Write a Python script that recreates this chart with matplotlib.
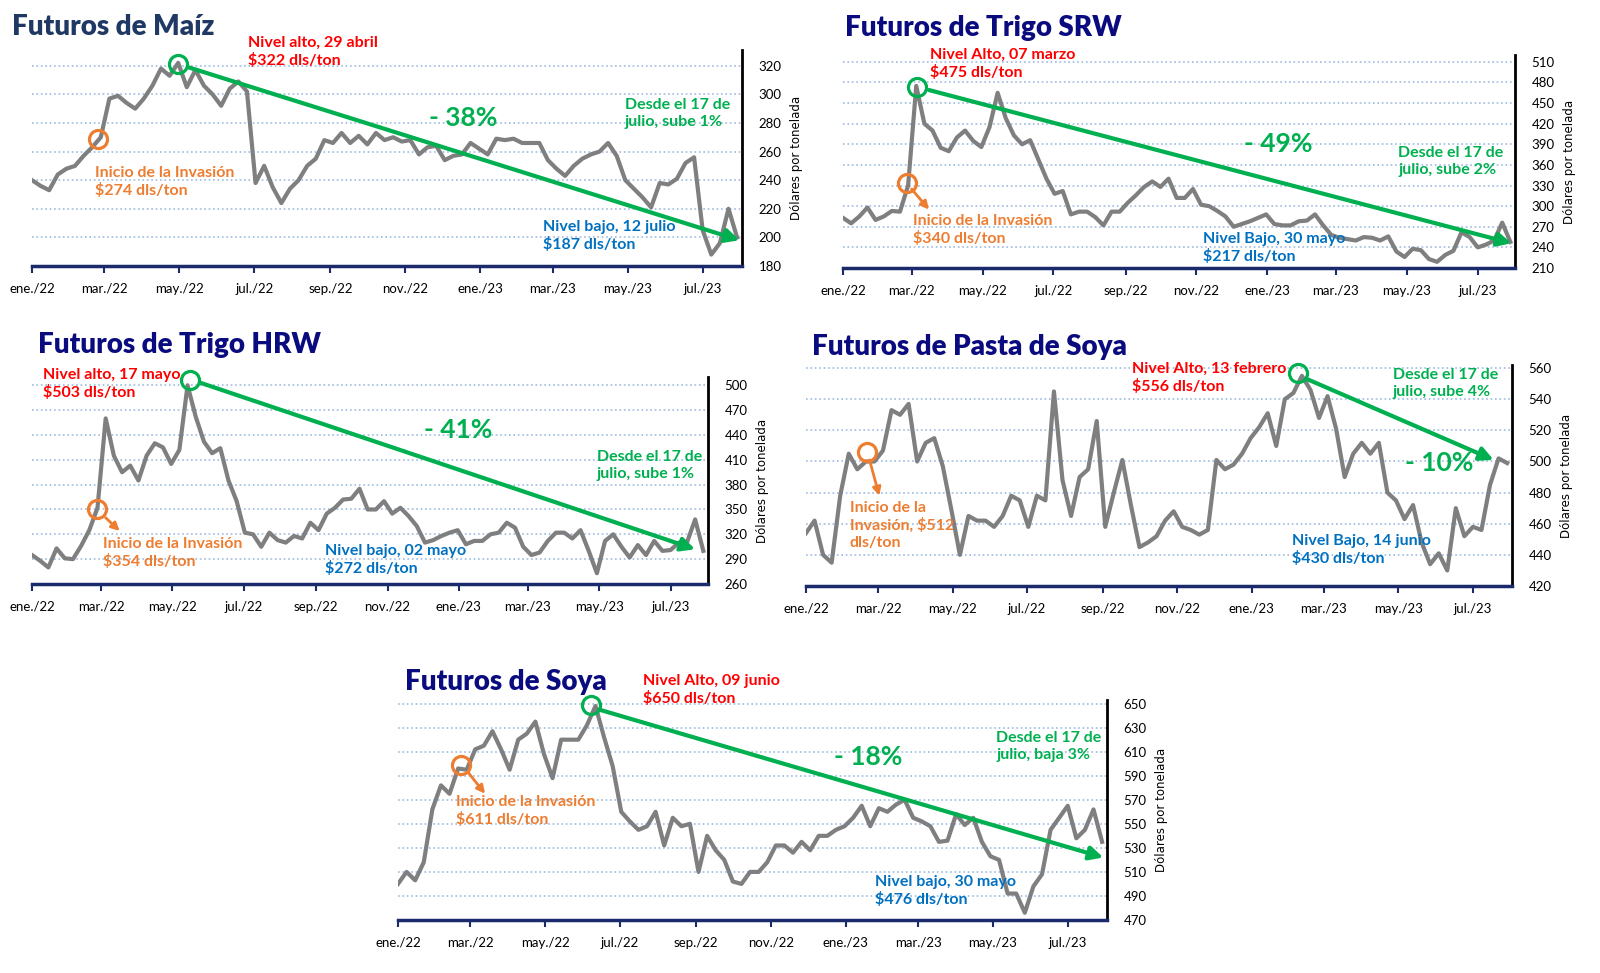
import matplotlib
matplotlib.use("Agg")
import matplotlib.pyplot as plt
import matplotlib.dates as mdates
import pandas as pd

W, H = 1600, 973
plt.rcParams['font.family'] = ['Lato', 'DejaVu Sans']

# weekly closes (USD / ton)
dates = pd.date_range('2022-01-01', periods=83, freq='7D')
month_ticks = pd.date_range('2022-01-01', '2023-07-01', freq='2MS')
month_labels = ['ene./22', 'mar./22', 'may./22', 'jul./22', 'sep./22', 'nov./22',
                'ene./23', 'mar./23', 'may./23', 'jul./23']

maiz = [240, 236, 233, 244, 248, 250, 257, 263, 270, 297,
        299, 294, 290, 297, 306, 318, 313, 322, 305, 317,
        306, 300, 292, 304, 309, 302, 238, 250, 235, 224,
        234, 240, 250, 255, 268, 266, 273, 266, 271, 265,
        273, 268, 270, 267, 268, 258, 263, 264, 254, 257,
        258, 266, 262, 258, 269, 268, 269, 266, 266, 266,
        254, 248, 243, 250, 255, 258, 260, 266, 257, 240,
        234, 228, 221, 238, 237, 241, 252, 256, 205, 188,
        196, 220, 200]
trigo_srw = [283, 275, 285, 298, 280, 285, 293, 292, 330, 475,
             420, 410, 385, 380, 400, 410, 395, 386, 415, 465,
             428, 403, 390, 396, 368, 340, 318, 322, 288, 292,
             292, 284, 272, 292, 292, 305, 316, 328, 336, 328,
             340, 312, 312, 325, 302, 300, 293, 285, 270, 274,
             278, 283, 288, 274, 272, 272, 278, 279, 288, 272,
             258, 254, 252, 250, 255, 254, 250, 256, 234, 226,
             238, 236, 223, 219, 229, 235, 262, 255, 240, 244,
             250, 276, 248]
trigo_hrw = [295, 288, 280, 303, 291, 290, 306, 325, 352, 460,
             415, 395, 403, 385, 415, 430, 425, 405, 422, 500,
             462, 432, 418, 424, 385, 360, 322, 320, 305, 322,
             313, 310, 318, 315, 334, 325, 345, 352, 362, 363,
             375, 350, 350, 360, 345, 352, 342, 330, 310, 313,
             318, 322, 325, 308, 312, 312, 320, 322, 334, 328,
             305, 295, 298, 312, 322, 322, 315, 325, 300, 273,
             312, 320, 305, 292, 307, 295, 312, 300, 301, 310,
             310, 338, 300]
pasta = [454, 462, 440, 435, 478, 505, 495, 500, 500, 507,
         533, 530, 537, 500, 512, 515, 497, 469, 440, 465,
         462, 462, 458, 465, 478, 475, 458, 478, 475, 545,
         488, 465, 490, 495, 526, 458, 480, 501, 472, 445,
         448, 452, 462, 468, 458, 456, 453, 456, 501, 495,
         498, 505, 515, 522, 531, 510, 540, 544, 555, 546,
         528, 542, 521, 490, 505, 512, 505, 512, 480, 475,
         463, 472, 448, 434, 441, 430, 470, 452, 458, 456,
         485, 502, 499]
soya = [500, 510, 503, 518, 562, 582, 575, 596, 595, 612,
        615, 627, 612, 595, 620, 625, 635, 608, 588, 620,
        620, 620, 632, 648, 622, 598, 560, 552, 545, 548,
        560, 532, 555, 548, 550, 510, 540, 528, 520, 502,
        500, 510, 510, 518, 532, 532, 526, 535, 528, 540,
        540, 545, 548, 555, 565, 548, 563, 560, 566, 570,
        555, 552, 548, 535, 536, 558, 549, 555, 535, 523,
        520, 492, 492, 476, 498, 508, 545, 555, 565, 538,
        545, 562, 535]

GRAY = '#7F7F7F'
GREEN = '#00B050'
ORANGE = '#ED7D31'
RED = '#FF0000'
BLUE = '#0070C0'
AXIS_NAVY = '#1B2A6B'
TITLE_NAVY = '#0B0B80'

fig = plt.figure(figsize=(W / 100, H / 100), dpi=100)
fig.patch.set_facecolor('white')


def panel(box, values, yticks, ylim):
    left, right, top, bottom = box
    ax = fig.add_axes([left / W, 1 - bottom / H, (right - left) / W, (bottom - top) / H])
    ax.plot(dates, values, color=GRAY, lw=3.0, solid_joinstyle='round')
    ax.set_xlim(pd.Timestamp('2022-01-01'), pd.Timestamp('2023-08-02'))
    ax.set_ylim(*ylim)
    ax.set_yticks(yticks)
    ax.set_xticks(month_ticks)
    ax.set_xticklabels(month_labels)
    ax.grid(axis='y', color='#9DBBE0', linestyle=':', lw=1.2)
    ax.set_axisbelow(True)
    for s in ['left', 'top']:
        ax.spines[s].set_visible(False)
    ax.spines['right'].set_color('black')
    ax.spines['right'].set_linewidth(2)
    ax.spines['bottom'].set_color(AXIS_NAVY)
    ax.spines['bottom'].set_linewidth(2.5)
    ax.yaxis.tick_right()
    ax.yaxis.set_label_position('right')
    ax.tick_params(axis='x', direction='out', length=5, width=1.5, color=AXIS_NAVY,
                   labelsize=9.5, pad=7)
    ax.tick_params(axis='y', length=0, labelsize=9.5, pad=12)
    ax.set_ylabel('Dólares por tonelada', fontsize=8.5, labelpad=6,
                  family=['DejaVu Sans'])
    return ax


def circle(ax, d, v, color):
    ax.plot(mdates.date2num(pd.Timestamp(d)), v, 'o', ms=13, mfc='none', mec=color,
            mew=2.3, clip_on=False, zorder=5)


def arrow(ax, d0, v0, d1, v1, color=GREEN, lw=3.0, scale=20):
    ax.annotate('', xy=(mdates.date2num(pd.Timestamp(d1)), v1),
                xytext=(mdates.date2num(pd.Timestamp(d0)), v0),
                arrowprops=dict(arrowstyle='-|>', color=color, lw=lw,
                                mutation_scale=scale, shrinkA=0, shrinkB=0),
                annotation_clip=False, zorder=6)


def label(x, y, s, color, size=11.5):
    fig.text(x / W, 1 - y / H, s, color=color, fontsize=size, fontweight='bold',
             va='top', ha='left', linespacing=1.25)


def pct(x, y, s):
    fig.text(x / W, 1 - y / H, s, color=GREEN, fontsize=19, fontweight='bold',
             va='center', ha='center')


def title(x, y, s, color=TITLE_NAVY):
    fig.text(x / W, 1 - y / H, s, color=color, fontsize=20, fontweight='heavy',
             va='center', ha='left')


# Maíz
ax1 = panel((32, 742, 50, 266), maiz, range(180, 321, 20), (180, 331))
circle(ax1, '2022-02-24', 269, ORANGE)
circle(ax1, '2022-04-30', 321, GREEN)
arrow(ax1, '2022-05-08', 319, '2023-07-31', 198)
title(12, 27, 'Futuros de Maíz', '#1F3864')
label(248, 36, 'Nivel alto, 29 abril\n$322 dls/ton', RED)
pct(463, 118, '- 38%')
label(625, 98, 'Desde el 17 de\njulio, sube 1%', GREEN)
label(95, 166, 'Inicio de la Invasión\n$274 dls/ton', ORANGE)
label(543, 220, 'Nivel bajo, 12 julio\n$187 dls/ton', BLUE)

# Trigo SRW
ax2 = panel((843, 1515, 55, 268), trigo_srw, range(210, 511, 30), (210, 520))
circle(ax2, '2022-02-25', 334, ORANGE)
arrow(ax2, '2022-03-01', 325, '2022-03-16', 295, ORANGE, 2.0, 12)
circle(ax2, '2022-03-06', 473, GREEN)
arrow(ax2, '2022-03-16', 469, '2023-07-30', 246)
title(845, 28, 'Futuros de Trigo SRW')
label(930, 48, 'Nivel Alto, 07 marzo\n$475 dls/ton', RED)
pct(1278, 144, '- 49%')
label(1398, 146, 'Desde el 17 de\njulio, sube 2%', GREEN)
label(913, 214, 'Inicio de la Invasión\n$340 dls/ton', ORANGE)
label(1203, 232, 'Nivel Bajo, 30 mayo\n$217 dls/ton', BLUE)

# Trigo HRW
ax3 = panel((32, 708, 377, 584), trigo_hrw, range(260, 501, 30), (260, 510))
circle(ax3, '2022-02-26', 350, ORANGE)
arrow(ax3, '2022-03-05', 340, '2022-03-17', 324, ORANGE, 2.0, 12)
circle(ax3, '2022-05-16', 506, GREEN)
arrow(ax3, '2022-05-25', 503, '2023-07-22', 302)
title(38, 345, 'Futuros de Trigo HRW')
label(43, 368, 'Nivel alto, 17 mayo\n$503 dls/ton', RED)
pct(458, 430, '- 41%')
label(597, 450, 'Desde el 17 de\njulio, sube 1%', GREEN)
label(103, 537, 'Inicio de la Invasión\n$354 dls/ton', ORANGE)
label(325, 544, 'Nivel bajo, 02 mayo\n$272 dls/ton', BLUE)

# Pasta de Soya
ax4 = panel((806, 1512, 365, 586), pasta, range(420, 561, 20), (420, 562))
circle(ax4, '2022-02-20', 506, ORANGE)
arrow(ax4, '2022-02-22', 501, '2022-03-02', 478, ORANGE, 2.0, 12)
circle(ax4, '2023-02-08', 557, GREEN)
arrow(ax4, '2023-02-15', 553, '2023-07-18', 501)
title(812, 347, 'Futuros de Pasta de Soya')
label(1132, 362, 'Nivel Alto, 13 febrero\n$556 dls/ton', RED)
label(1393, 368, 'Desde el 17 de\njulio, sube 4%', GREEN)
pct(1439, 463, '- 10%')
label(850, 501, 'Inicio de la\nInvasión, $512\ndls/ton', ORANGE)
label(1292, 534, 'Nivel Bajo, 14 junio\n$430 dls/ton', BLUE)

# Soya
ax5 = panel((398, 1107, 700, 920), soya, range(470, 651, 20), (470, 653))
circle(ax5, '2022-02-21', 599, ORANGE)
arrow(ax5, '2022-02-27', 593, '2022-03-13', 575, ORANGE, 2.0, 12)
circle(ax5, '2022-06-07', 649, GREEN)
arrow(ax5, '2022-06-14', 645, '2023-07-30', 522)
title(405, 682, 'Futuros de Soya')
label(643, 674, 'Nivel Alto, 09 junio\n$650 dls/ton', RED)
pct(868, 757, '- 18%')
label(996, 731, 'Desde el 17 de\njulio, baja 3%', GREEN)
label(456, 795, 'Inicio de la Invasión\n$611 dls/ton', ORANGE)
label(875, 875, 'Nivel bajo, 30 mayo\n$476 dls/ton', BLUE)

fig.savefig('out.png', dpi=100)
